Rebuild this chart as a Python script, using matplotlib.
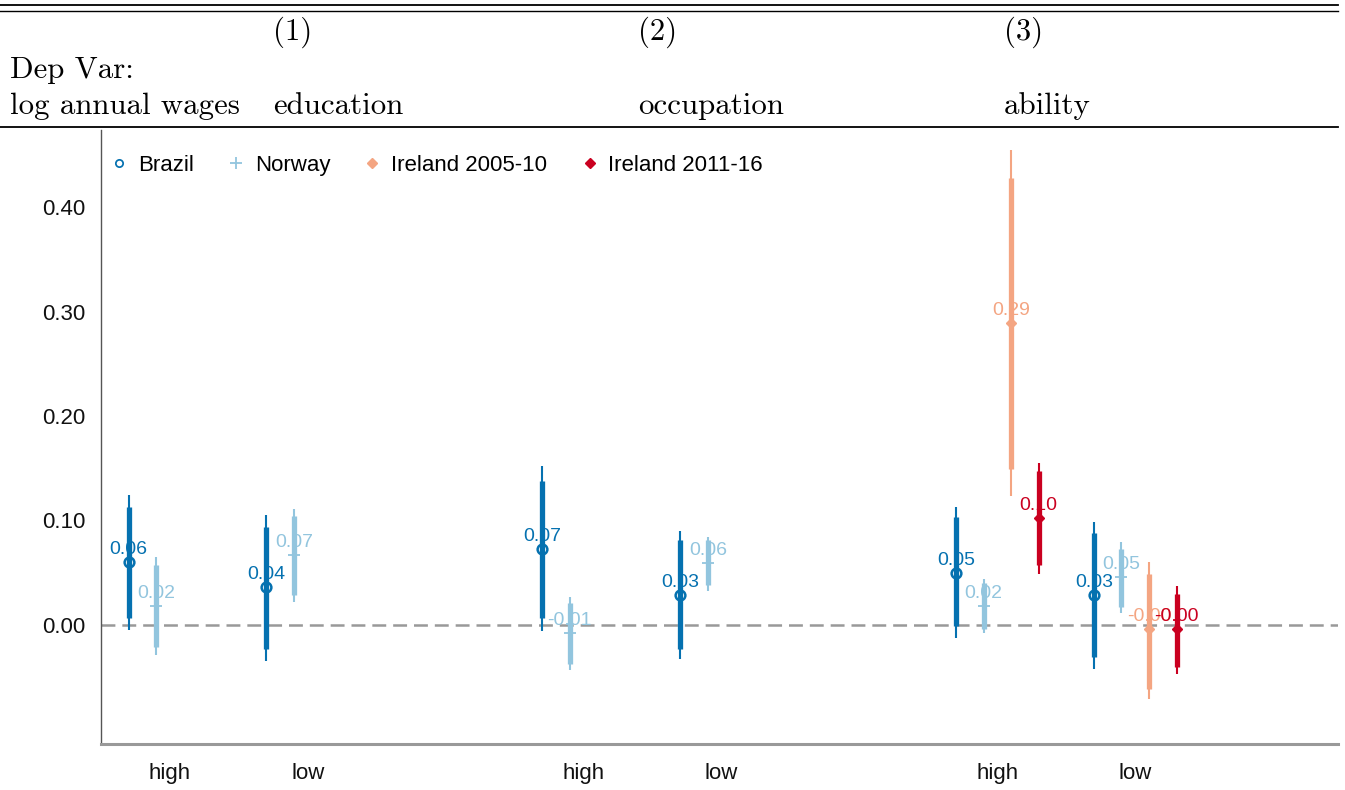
import numpy as np
import matplotlib
matplotlib.use("Agg")
import matplotlib.pyplot as plt
from matplotlib.lines import Line2D

nan = np.nan

# ---------------- data ----------------
groups = ["education", "occupation", "ability"]
group_nums = ["(1)", "(2)", "(3)"]
levels = ["high", "low"]

series_names = ["Brazil", "Norway", "Ireland 2005-10", "Ireland 2011-16"]

# order: edu-high, edu-low, occ-high, occ-low, abil-high, abil-low
brazil_est = [0.060, 0.036, 0.073, 0.029, 0.050, 0.029]
brazil_lo90 = [0.007, -0.023, 0.007, -0.023, -0.001, -0.031]
brazil_hi90 = [0.113, 0.094, 0.138, 0.081, 0.103, 0.088]
brazil_lo95 = [-0.005, -0.034, -0.006, -0.033, -0.012, -0.042]
brazil_hi95 = [0.124, 0.105, 0.152, 0.090, 0.113, 0.099]

norway_est = [0.0185, 0.067, -0.0073, 0.059, 0.018, 0.046]
norway_lo90 = [-0.021, 0.029, -0.037, 0.038, -0.004, 0.017]
norway_hi90 = [0.057, 0.104, 0.021, 0.081, 0.040, 0.073]
norway_lo95 = [-0.029, 0.022, -0.043, 0.033, -0.008, 0.011]
norway_hi95 = [0.065, 0.111, 0.027, 0.084, 0.044, 0.079]

ire05_est = [nan, nan, nan, nan, 0.289, -0.004]
ire05_lo90 = [nan, nan, nan, nan, 0.149, -0.061]
ire05_hi90 = [nan, nan, nan, nan, 0.428, 0.049]
ire05_lo95 = [nan, nan, nan, nan, 0.123, -0.071]
ire05_hi95 = [nan, nan, nan, nan, 0.455, 0.060]

ire11_est = [nan, nan, nan, nan, 0.102, -0.004]
ire11_lo90 = [nan, nan, nan, nan, 0.057, -0.040]
ire11_hi90 = [nan, nan, nan, nan, 0.147, 0.030]
ire11_lo95 = [nan, nan, nan, nan, 0.049, -0.047]
ire11_hi95 = [nan, nan, nan, nan, 0.155, 0.037]

yticks = [0.0, 0.1, 0.2, 0.3, 0.4]

# ---------------- style ----------------
plt.rcParams["font.family"] = ["Liberation Sans", "DejaVu Sans"]
plt.rcParams["lines.scale_dashes"] = False

colors = ["#0571b0", "#92c5de", "#f4a582", "#ca0020"]
markers = ["o", "+", "D", "D"]
mfcs = ["none", colors[1], colors[2], colors[3]]
msizes = [7, 9, 5.5, 5.5]
mews = [1.8, 1.3, 1.0, 1.0]
offsets = [-0.3, -0.1, 0.1, 0.3]

series = [
    (brazil_est, brazil_lo90, brazil_hi90, brazil_lo95, brazil_hi95),
    (norway_est, norway_lo90, norway_hi90, norway_lo95, norway_hi95),
    (ire05_est, ire05_lo90, ire05_hi90, ire05_lo95, ire05_hi95),
    (ire11_est, ire11_lo90, ire11_hi90, ire11_lo95, ire11_hi95),
]

W, H = 1345, 790
fig = plt.figure(figsize=(W / 100, H / 100), dpi=100)
ax = fig.add_axes([101 / W, 1 - 744 / H, (1338 - 101) / W, (744 - 130) / H])

# category positions
cat_pos = []
cat_labels = []
for gi, g in enumerate(groups):
    for li, lv in enumerate(levels):
        cat_pos.append(gi * 3 + li + 1)
        cat_labels.append(lv)
cat_pos = np.array(cat_pos, dtype=float)

ax.axhline(0, color="#999999", lw=1.8, dashes=(10, 5), zorder=1)

for si, (est, lo90, hi90, lo95, hi95) in enumerate(series):
    c = colors[si]
    x = cat_pos + offsets[si]
    est = np.array(est); lo90 = np.array(lo90); hi90 = np.array(hi90)
    lo95 = np.array(lo95); hi95 = np.array(hi95)
    ok = ~np.isnan(est)
    ax.vlines(x[ok], lo95[ok], hi95[ok], color=c, lw=1.5, zorder=2)
    ax.vlines(x[ok], lo90[ok], hi90[ok], color=c, lw=3.8, zorder=3)
    ax.plot(x[ok], est[ok], ls="none", marker=markers[si], ms=msizes[si],
            mfc=mfcs[si], mec=c, mew=mews[si], zorder=4)
    for xi, yi in zip(x[ok], est[ok]):
        ax.annotate(f"{yi:.2f}", (xi, yi), xytext=(0, 8), textcoords="offset pixels",
                    ha="center", va="baseline", color=c, fontsize=14, zorder=5)

ax.set_xlim(0.5, 9.47)
ax.set_ylim(-0.1139, 0.4737)
ax.set_yticks(yticks)
ax.set_yticklabels([f"{t:.2f}" for t in yticks])
ax.set_xticks(cat_pos)
ax.set_xticklabels(cat_labels)
ax.tick_params(axis="y", length=0, pad=11, labelsize=16, labelcolor="#111111")
ax.tick_params(axis="x", length=0, pad=14, labelsize=16, labelcolor="#111111")
for s in ["top", "right"]:
    ax.spines[s].set_visible(False)
ax.spines["left"].set_color("#555555")
ax.spines["left"].set_linewidth(1.0)
ax.spines["bottom"].set_color("#999999")
ax.spines["bottom"].set_linewidth(2.2)
ax.patch.set_alpha(0)

# legend
handles = [Line2D([], [], ls="none", marker=markers[i], ms=msizes[i] * (0.75 if i == 0 else 1.0),
                  mfc=mfcs[i], mec=colors[i], mew=mews[i] * (0.7 if i == 0 else 1.0))
           for i in range(4)]
ax.legend(handles, series_names, loc="upper left", ncol=4, frameon=False,
          bbox_to_anchor=(110 / W, 1 - 155 / H), bbox_transform=fig.transFigure,
          borderaxespad=0, borderpad=0, handlelength=0.8, handletextpad=0.45,
          columnspacing=1.5, fontsize=16)

# header (table-like)
def hline(ypx, lw):
    fig.add_artist(Line2D([0.0, 1338 / W], [1 - ypx / H, 1 - ypx / H],
                          transform=fig.transFigure, color="black", lw=lw))

hline(5, 1.3)
hline(11, 1.0)
hline(127, 1.3)

hfont = dict(family="cmr10", fontsize=22.2, color="black", va="baseline", ha="left")
fig.text(10 / W, 1 - 78 / H, "Dep Var:", **hfont)
fig.text(10 / W, 1 - 114 / H, "log annual wages", **hfont)
gx = [273, 638, 1004]
for gxp, num, name in zip(gx, group_nums, groups):
    fig.text(gxp / W, 1 - 40 / H, num, **hfont)
    fig.text(gxp / W, 1 - 114 / H, name, **hfont)

fig.savefig("out.png", dpi=100)
